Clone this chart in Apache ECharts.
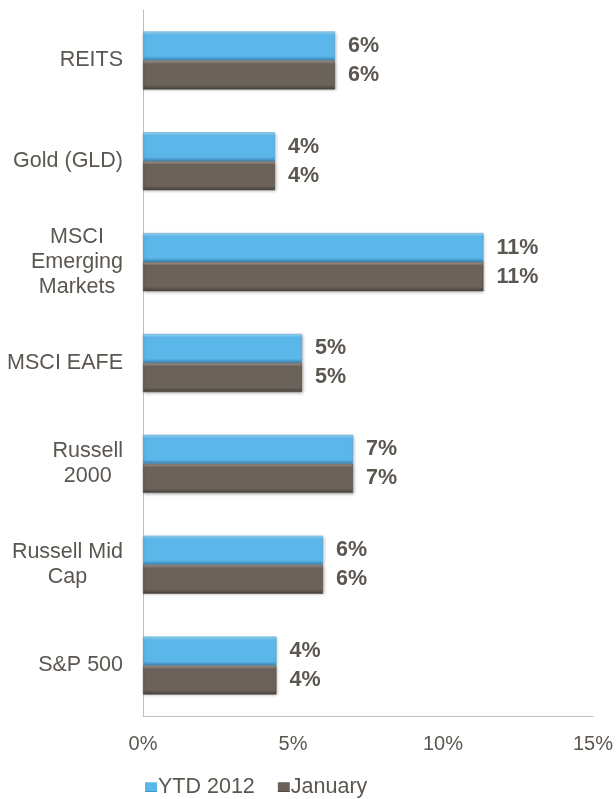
<!DOCTYPE html>
<html><head><meta charset="utf-8">
<script src="https://cdn.jsdelivr.net/npm/echarts@6/dist/echarts.min.js"></script>
<style>html,body{margin:0;padding:0;background:#fff}#c{width:616px;height:799px}</style>
</head><body><div id="c"></div>
<script>
const categories = ['REITS', 'Gold (GLD)', 'MSCI\nEmerging\nMarkets', 'MSCI EAFE', 'Russell\n2000', 'Russell Mid\nCap', 'S&P 500'];
const ytd2012 = [6.4, 4.4, 11.35, 5.3, 7.0, 6.0, 4.45];
const january = [6.4, 4.4, 11.35, 5.3, 7.0, 6.0, 4.45];
const xTicks = [0, 5, 10, 15];

const txt = '#5b5650';
function grad(top, mid, bot) {
  return new echarts.graphic.LinearGradient(0, 0, 0, 1, [
    {offset: 0, color: top}, {offset: 0.12, color: mid}, {offset: 0.85, color: mid}, {offset: 1, color: bot}
  ]);
}
const blue = grad('#9fdcf8', '#5bb6e9', '#3a86b8');
const brown = grad('#aaa198', '#6b625a', '#463f39');

const chart = echarts.init(document.getElementById('c'));
chart.setOption({
  animation: false,
  grid: {left: 143, right: 22, top: 10, bottom: 83, containLabel: false},
  xAxis: {
    type: 'value', min: xTicks[0], max: xTicks[xTicks.length - 1], interval: 5,
    axisLine: {show: true, lineStyle: {color: '#bfbfbf', width: 1}},
    axisTick: {show: false}, splitLine: {show: false},
    axisLabel: {formatter: v => v + '%', color: txt, fontSize: 20, fontFamily: 'Liberation Sans', margin: 18}
  },
  yAxis: {
    type: 'category', data: categories, inverse: true,
    axisLine: {show: true, lineStyle: {color: '#bfbfbf', width: 1}},
    axisTick: {show: false},
    axisLabel: {
      color: txt, fontSize: 21.5, fontFamily: 'Liberation Sans', margin: 20, lineHeight: 25,
      formatter: v => v.split('\n').map(s => '{c|' + s + '}').join('\n'),
      rich: {c: {align: 'center', color: txt, fontSize: 21.5, fontFamily: 'Liberation Sans', lineHeight: 25}}
    }
  },
  legend: {
    left: 140, top: 771, itemWidth: 12, itemHeight: 10, itemGap: 23,
    icon: 'rect',
    itemStyle: {borderWidth: 0, shadowBlur: 0},
    textStyle: {color: txt, fontSize: 21.5, fontFamily: 'Liberation Sans', padding: [0, 0, 0, -4]},
    data: ['YTD 2012', 'January']
  },
  series: [
    {name: 'YTD 2012', type: 'bar', data: ytd2012, barWidth: 29, barGap: '0%',
     itemStyle: {color: blue, borderColor: '#4a9fd0', borderWidth: 0.5, shadowColor: 'rgba(0,0,0,0.25)', shadowBlur: 3, shadowOffsetX: 1, shadowOffsetY: 1},
     label: {show: true, position: 'right', distance: 13, formatter: p => Math.round(p.value) + '%', color: txt, fontSize: 21.5, fontWeight: 'bold', fontFamily: 'Liberation Sans'}},
    {name: 'January', type: 'bar', data: january, barWidth: 29,
     itemStyle: {color: brown, borderColor: '#4f4740', borderWidth: 0.5, shadowColor: 'rgba(0,0,0,0.3)', shadowBlur: 3, shadowOffsetX: 1, shadowOffsetY: 1},
     label: {show: true, position: 'right', distance: 13, formatter: p => Math.round(p.value) + '%', color: txt, fontSize: 21.5, fontWeight: 'bold', fontFamily: 'Liberation Sans'}}
  ]
});
</script></body></html>
